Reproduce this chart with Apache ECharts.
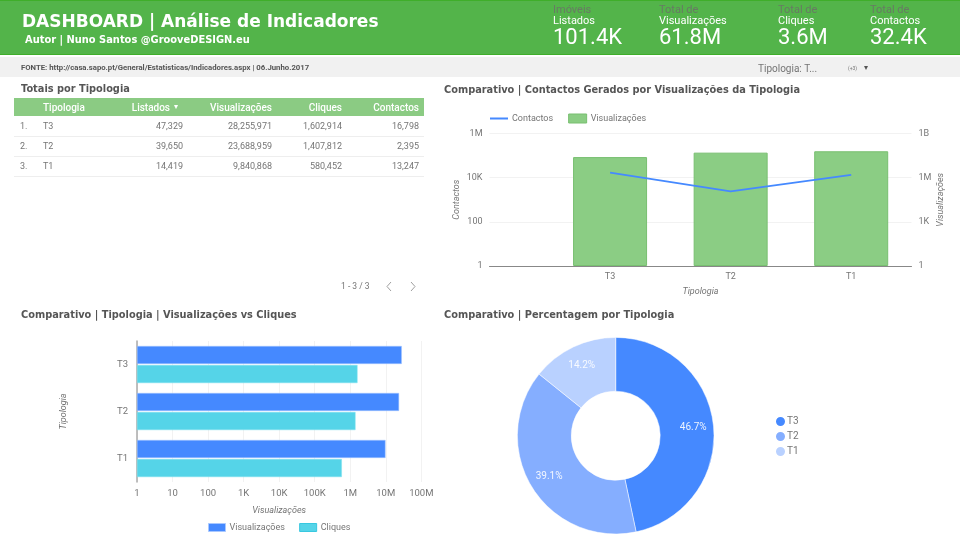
<!DOCTYPE html>
<html>
<head>
<meta charset="utf-8">
<title>Dashboard</title>
<script src="https://cdn.jsdelivr.net/npm/echarts@6/dist/echarts.min.js"></script>
<style>
html, body { margin: 0; padding: 0; background: #fff; }
#main { width: 960px; height: 535px; }
</style>
</head>
<body>
<div id="main"></div>
<script>
// table data
const categories = ['T3', 'T2', 'T1'];
const listados = [47329, 39650, 14419];
const visualizacoes = [28255971, 23688959, 9840868];
const cliques = [1602914, 1407812, 580452];
const contactos = [16798, 2395, 13247];

// the combo chart bars are not the table values
const comboVisualizacoes = [25000000, 50000000, 62000000];

const kpiTop = ['Imóveis', 'Total de', 'Total de', 'Total de'];
const kpiBottom = ['Listados', 'Visualizações', 'Cliques', 'Contactos'];
const kpiValues = ['101.4K', '61.8M', '3.6M', '32.4K'];
const kpiX = [553, 659, 778, 870];

const tableHead = ['Tipologia', 'Listados', 'Visualizações', 'Cliques', 'Contactos'];
const tableRight = [170, 272, 342, 419];
const rowRight = [183, 272, 342, 419];

const SANS = 'Roboto';
const BOLD = '"DejaVu Sans"';
const GREY = '#757575';
const PIE_CENTER = [615.7, 435.7];

function shortNum(v) {
    if (v >= 1e9) return v / 1e9 + 'B';
    if (v >= 1e6) return v / 1e6 + 'M';
    if (v >= 1e3) return v / 1e3 + 'K';
    return '' + v;
}

// Roboto sits a bit high with middle alignment, so nudge it down
function txt(x, y, text, size, color, extra) {
    return {
        type: 'text', x: x, y: y + 1 + size * 0.06, silent: true,
        style: Object.assign({
            text: text, fontSize: size, fontFamily: SANS, fill: color,
            verticalAlign: 'middle'
        }, extra || {})
    };
}

function heading(x, y, text, size) {
    return {
        type: 'text', x: x, y: y, silent: true,
        style: {
            text: text, fontSize: size, fontFamily: BOLD, fontWeight: 'bold', fill: '#555',
            verticalAlign: 'middle'
        }
    };
}

function rect(x, y, w, h, color) {
    return { type: 'rect', silent: true, shape: { x: x, y: y, width: w, height: h }, style: { fill: color } };
}

function chevron(points) {
    return { type: 'polyline', silent: true, shape: { points: points }, style: { stroke: '#9e9e9e', lineWidth: 1, fill: null } };
}

let graphics = [
    rect(0, 0, 960, 55, '#53b44a'),
    rect(0, 0, 960, 1, '#3fae2a'),
    rect(0, 54, 960, 1, '#3fae2a'),
    rect(0, 57, 960, 20, '#f1f1f1'),
    txt(22, 20.5, 'DASHBOARD | Análise de Indicadores', 17, '#fff', { fontFamily: BOLD, fontWeight: 'bold' }),
    txt(25, 38.5, 'Autor | Nuno Santos @GrooveDESIGN.eu', 9.9, '#fff', { fontFamily: BOLD, fontWeight: 'bold' }),
    txt(21, 67, 'FONTE: http://casa.sapo.pt/General/Estatisticas/Indicadores.aspx | 06.Junho.2017', 7.75, '#555', { fontWeight: 'bold' }),
    txt(758, 67.5, 'Tipologia: T...', 10, GREY),
    txt(848, 67, '(+3)', 5, GREY),
    txt(864, 67, '▾', 8, '#555'),
    heading(21, 89, 'Totais por Tipologia', 9.8),
    heading(444, 90, 'Comparativo | Contactos Gerados por Visualizações da Tipologia', 9.8),
    heading(21, 315, 'Comparativo | Tipologia | Visualizações vs Cliques', 9.8),
    heading(444, 315, 'Comparativo | Percentagem por Tipologia', 9.8),
    rect(14, 98, 410, 18, '#8bcb83'),
    txt(341, 285.5, '1 - 3 / 3', 8.5, GREY),
    chevron([[391, 282], [387, 286.5], [391, 291]]),
    chevron([[411, 282], [415, 286.5], [411, 291]])
];

// KPI block
kpiX.forEach((x, i) => {
    graphics.push(txt(x, 9, kpiTop[i], 11, '#687a64'));
    graphics.push(txt(x, 20, kpiBottom[i], 11, '#fff'));
    graphics.push(txt(x, 36, kpiValues[i], 22, '#fff'));
});

// table
graphics.push(txt(43, 107, tableHead[0], 10, '#fff', { fontWeight: 500 }));
graphics.push(txt(174, 106, '▾', 8, '#fff'));
[1, 2, 3, 4].forEach(c => {
    graphics.push(txt(tableRight[c - 1], 107, tableHead[c], 10, '#fff', { fontWeight: 500, align: 'right' }));
});
categories.forEach((cat, i) => {
    const y = 125 + i * 20;
    graphics.push(txt(20, y, (i + 1) + '.', 9, GREY));
    graphics.push(txt(43, y, cat, 9, GREY));
    [listados, visualizacoes, cliques, contactos].forEach((col, c) => {
        graphics.push(txt(rowRight[c], y, col[i].toLocaleString('en-US'), 9, GREY, { align: 'right' }));
    });
    graphics.push(rect(14, y + 11, 410, 1, '#eeeeee'));
});

const axisLabel = { color: GREY, fontSize: 9.5, fontFamily: SANS };
const axisName = { color: GREY, fontSize: 9, fontFamily: SANS, fontStyle: 'italic' };
const splitLine = { show: true, lineStyle: { color: '#f2f2f2', width: 1 } };
const legendText = { color: GREY, fontSize: 9, fontFamily: SANS, padding: [0, 0, 0, -1] };

const option = {
    animation: false,
    graphic: { elements: graphics },
    grid: [
        { left: 489.5, top: 133.5, width: 422, height: 132.5 },
        { left: 137, top: 341, width: 284.3, height: 141 }
    ],
    legend: [
        {
            left: 489, top: 113.5, padding: 0, itemWidth: 18, itemHeight: 9, itemGap: 15,
            selectedMode: false, textStyle: legendText,
            data: [
                // line series legend draws a dot even with symbol none, so hide it
                { name: 'Contactos', itemStyle: { opacity: 0 } },
                { name: 'Visualizações', icon: 'rect', itemStyle: { color: '#8bcd84', borderColor: '#78bf70', borderWidth: 1 } }
            ]
        },
        {
            left: 208, top: 523, padding: 0, itemWidth: 17, itemHeight: 8, itemGap: 12,
            selectedMode: false, textStyle: legendText,
            data: [
                { name: 'Visualizações ', icon: 'rect', itemStyle: { color: '#4589ff', borderColor: '#a9c8ff', borderWidth: 1 } },
                { name: 'Cliques', icon: 'rect', itemStyle: { color: '#55d4e8', borderColor: '#38c8e0', borderWidth: 1 } }
            ]
        },
        {
            left: 774, top: 415, padding: 0, orient: 'vertical', icon: 'circle', itemWidth: 11, itemHeight: 11, itemGap: 2,
            selectedMode: false,
            textStyle: { color: GREY, fontSize: 10, fontFamily: SANS, padding: [0, 0, 0, -4] },
            data: categories
        }
    ],
    xAxis: [
        {
            // value axis so the empty slot left of T3 can be kept
            type: 'value', gridIndex: 0, min: -1, max: 2.5, interval: 1,
            name: 'Tipologia', nameLocation: 'middle', nameGap: 21, nameTextStyle: axisName,
            axisLine: { onZero: false, lineStyle: { color: '#888', width: 1 } },
            axisTick: { show: false }, splitLine: { show: false },
            axisLabel: Object.assign({}, axisLabel, { fontSize: 9, margin: 6, formatter: v => categories[v] || '' })
        },
        {
            type: 'log', logBase: 10, gridIndex: 1, min: 1, max: 100000000,
            name: 'Visualizações', nameLocation: 'middle', nameGap: 24, nameTextStyle: axisName,
            axisLine: { show: false }, axisTick: { show: false }, splitLine: splitLine, minorSplitLine: { show: false },
            axisLabel: Object.assign({}, axisLabel, { margin: 7, formatter: shortNum })
        }
    ],
    yAxis: [
        {
            type: 'log', logBase: 100, gridIndex: 0, min: 1, max: 1000000,
            name: 'Contactos', nameLocation: 'middle', nameGap: 28, nameTextStyle: axisName,
            axisLine: { show: false }, axisTick: { show: false }, splitLine: splitLine,
            axisLabel: Object.assign({}, axisLabel, { fontSize: 9, margin: 7, formatter: shortNum })
        },
        {
            type: 'log', logBase: 1000, gridIndex: 0, min: 1, max: 1000000000, position: 'right',
            name: 'Visualizações', nameLocation: 'middle', nameGap: 25, nameRotate: 90, nameTextStyle: axisName,
            axisLine: { show: false }, axisTick: { show: false }, splitLine: { show: false },
            axisLabel: Object.assign({}, axisLabel, { fontSize: 9, margin: 7, formatter: shortNum })
        },
        {
            type: 'category', gridIndex: 1, inverse: true, data: categories,
            name: 'Tipologia', nameLocation: 'middle', nameGap: 69, nameTextStyle: axisName,
            axisLine: { lineStyle: { color: '#aaa', width: 1.5 } }, axisTick: { show: false },
            axisLabel: Object.assign({}, axisLabel, { margin: 9 })
        }
    ],
    series: [
        {
            name: 'Visualizações', type: 'bar', xAxisIndex: 0, yAxisIndex: 1, barWidth: 74,
            itemStyle: { color: '#8bcd84', borderColor: '#78bf70', borderWidth: 1 },
            data: comboVisualizacoes.map((v, i) => [i, v])
        },
        {
            name: 'Contactos', type: 'line', xAxisIndex: 0, yAxisIndex: 0, symbol: 'none',
            lineStyle: { color: '#4589ff', width: 1.8 }, itemStyle: { color: '#4589ff' },
            data: contactos.map((v, i) => [i, v])
        },
        {
            name: 'Visualizações ', type: 'bar', xAxisIndex: 1, yAxisIndex: 2, barWidth: 18, barGap: '6%',
            itemStyle: { color: '#4589ff', borderColor: '#a9c8ff', borderWidth: 0.5 },
            data: visualizacoes
        },
        {
            name: 'Cliques', type: 'bar', xAxisIndex: 1, yAxisIndex: 2, barWidth: 18,
            itemStyle: { color: '#55d4e8', borderColor: '#7fe0ef', borderWidth: 0.5 },
            data: cliques
        },
        {
            type: 'pie', center: PIE_CENTER, radius: [44.5, 98.3], startAngle: 90, percentPrecision: 1,
            color: ['#4589ff', '#85aeff', '#b9d1ff'],
            itemStyle: { borderColor: '#fff', borderWidth: 0.5 },
            label: { position: 'inside', formatter: '{d}%', color: 'rgba(255,255,255,0.9)', fontSize: 10, fontFamily: SANS },
            labelLine: { show: false },
            // labels sit a little further out than the middle of the ring
            labelLayout: params => {
                const dx = params.rect.x + params.rect.width / 2 - PIE_CENTER[0];
                const dy = params.rect.y + params.rect.height / 2 - PIE_CENTER[1];
                const len = Math.sqrt(dx * dx + dy * dy);
                return { dx: dx / len * 3.5, dy: dy / len * 3.5 };
            },
            data: categories.map((c, i) => ({ name: c, value: listados[i] }))
        }
    ]
};

const myChart = echarts.init(document.getElementById('main'));
myChart.setOption(option);
</script>
</body>
</html>
